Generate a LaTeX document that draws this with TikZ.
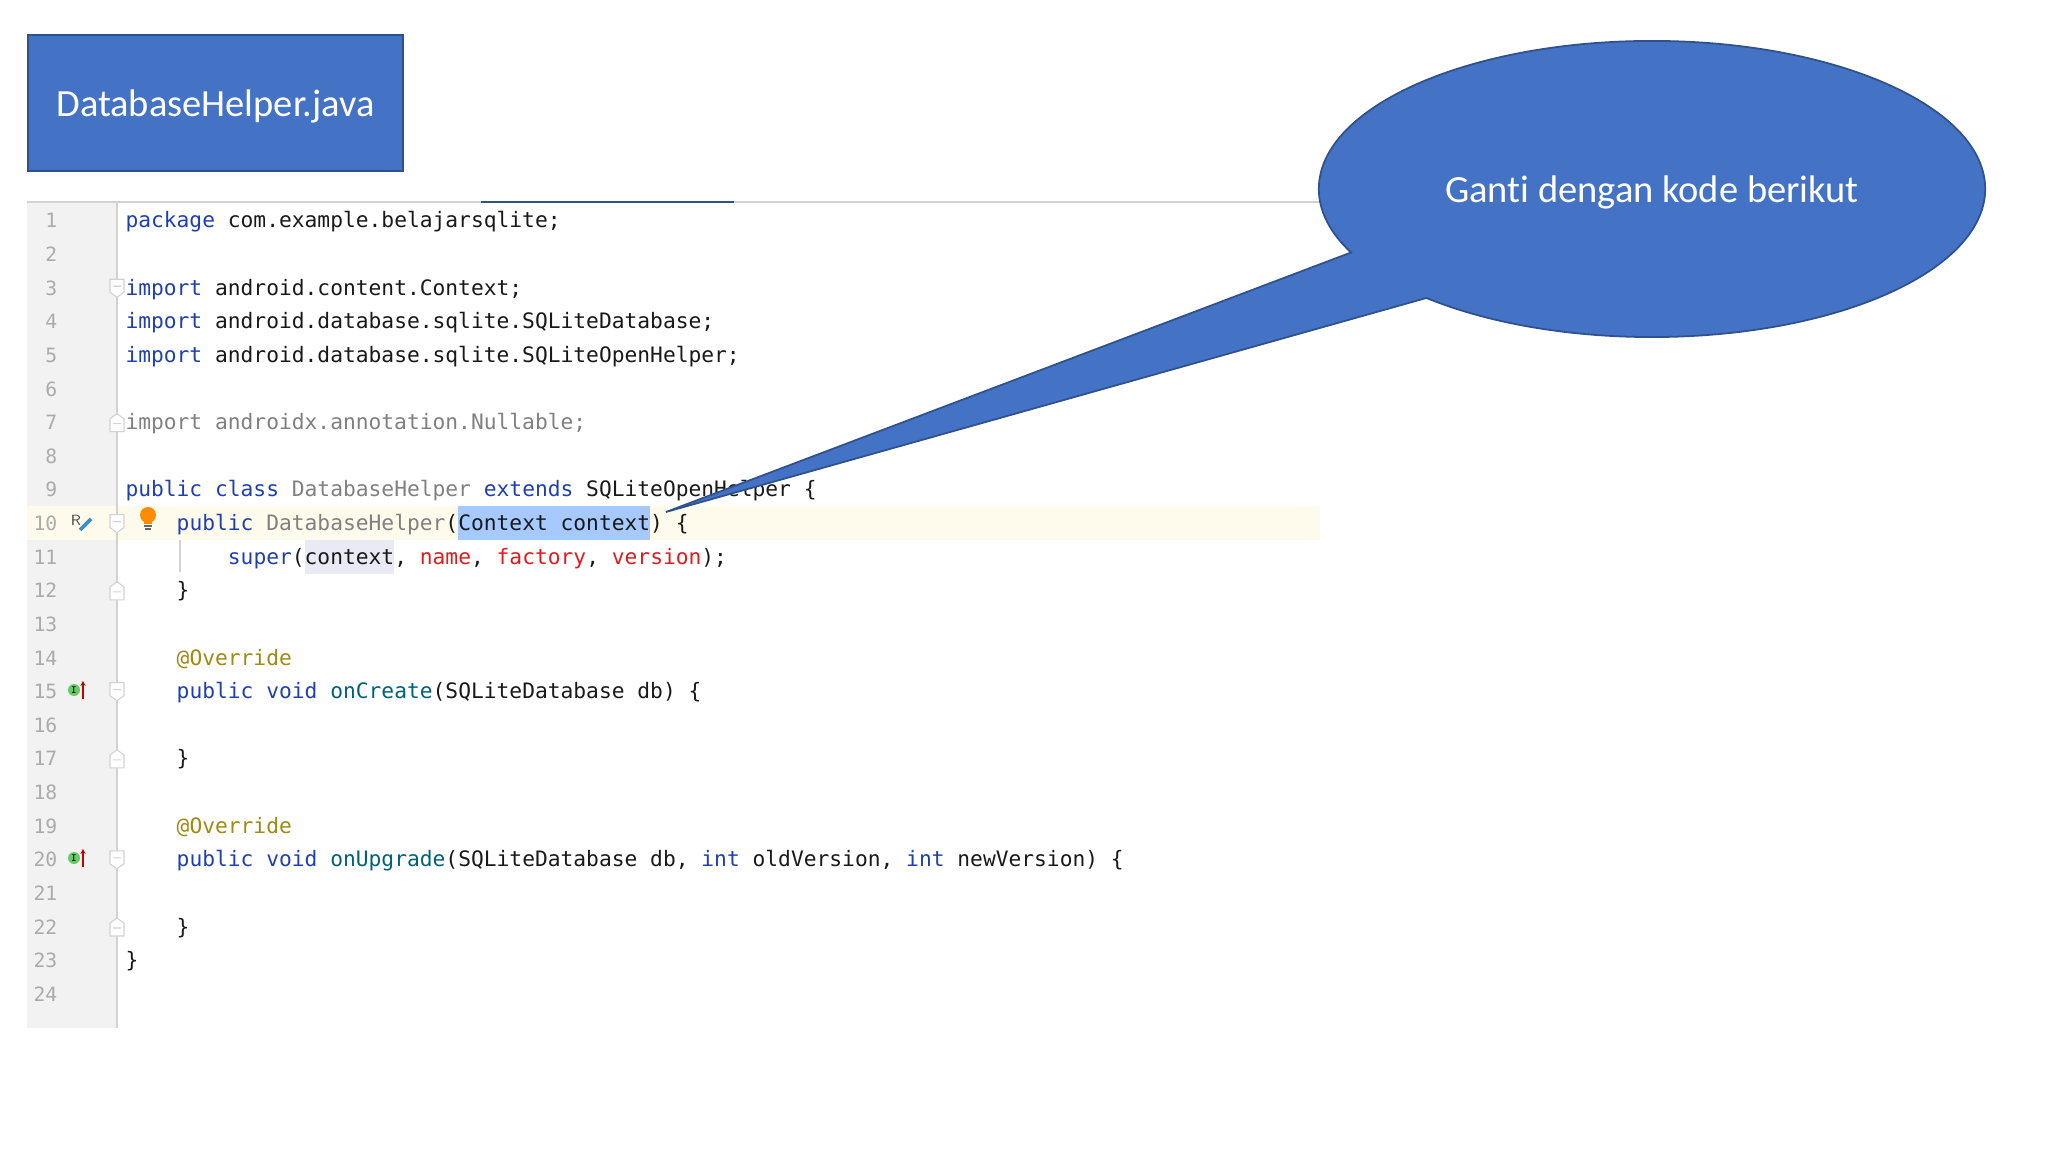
\documentclass[tikz,border=0pt]{standalone}
\usepackage{fontspec}
\setmainfont[Ligatures=NoCommon]{Carlito}
\setmonofont{DejaVu Sans Mono}
\usetikzlibrary{shapes.callouts,arrows.meta}
\definecolor{slideblue}{HTML}{4472C4}
\definecolor{slideedge}{HTML}{2F528F}
\definecolor{gutterbg}{HTML}{F2F2F3}
\definecolor{gutterline}{HTML}{D2D2D2}
\definecolor{linenum}{HTML}{ABABAB}
\definecolor{kwblue}{HTML}{1F3FB0}
\definecolor{dimgray}{HTML}{808080}
\definecolor{paramred}{HTML}{E01B1B}
\definecolor{methodteal}{HTML}{00627A}
\definecolor{annotgold}{HTML}{A08A12}
\definecolor{pencilblue}{HTML}{3D8FC9}
\newcommand{\kw}[1]{\textcolor{kwblue}{#1}}
\newcommand{\dm}[1]{\textcolor{dimgray}{#1}}
\newcommand{\pr}[1]{\textcolor{paramred}{#1}}
\newcommand{\mt}[1]{\textcolor{methodteal}{#1}}
\newcommand{\an}[1]{\textcolor{annotgold}{#1}}
\tikzset{
	slidetext/.style={text=white,font=\fontsize{10.94}{12}\selectfont,text height=0.75em,text depth=0pt},
	codeline/.style={anchor=base west,inner sep=0pt,text=black!90,font=\ttfamily\fontsize{6.045}{7}\selectfont},
	numline/.style={anchor=base east,inner sep=0pt,text=linenum,font=\ttfamily\fontsize{5.6}{6}\selectfont},
	foldmark/.style={draw=gutterline,fill=white,line width=0.3pt}
}
\begin{document}
\begin{tikzpicture}[x=0.01cm,y=-0.01cm]
	\useasboundingbox (0,0) rectangle (2048,1152);
	% editor background
	\fill[gutterbg] (27,202) rectangle (117,1028);
	\fill[yellow!60!orange!7] (27,506) rectangle (1320,540);
	\fill[blue!40!gray!12] (305,540) rectangle (394,574);
	\fill[blue!60!cyan!35] (458,506) rectangle (650,540);
	\draw[gutterline,line width=0.4pt] (27,202) -- (1400,202);
	\draw[slideedge,line width=0.4pt] (481,202) -- (734,202);
	\draw[gutterline,line width=0.4pt] (117,202) -- (117,1028);
	\draw[gutterline,line width=0.3pt] (180,540) -- (180,572);
	% line numbers
	\foreach \n in {1,...,24}
	\node[numline] (num\n) at (58,228+33.62*\n-33.62) {\n};
	% code
	\foreach \n/\ind/\txt in {
		1/0/{\kw{package} com.example.belajarsqlite;},
		3/0/{\kw{import} android.content.Context;},
		4/0/{\kw{import} android.database.sqlite.SQLiteDatabase;},
		5/0/{\kw{import} android.database.sqlite.SQLiteOpenHelper;},
		7/0/{\dm{import androidx.annotation.Nullable;}},
		9/0/{\kw{public class} \dm{DatabaseHelper} \kw{extends} SQLiteOpenHelper \{},
		10/4/{\kw{public} \dm{DatabaseHelper}(Context context) \{},
		11/8/{\kw{super}(context, \pr{name}, \pr{factory}, \pr{version});},
		12/4/{\}},
		14/4/{\an{@Override}},
		15/4/{\kw{public void} \mt{onCreate}(SQLiteDatabase db) \{},
		17/4/{\}},
		19/4/{\an{@Override}},
		20/4/{\kw{public void} \mt{onUpgrade}(SQLiteDatabase db, \kw{int} oldVersion, \kw{int} newVersion) \{},
		22/4/{\}},
		23/0/{\}}}
	\node[codeline] (code\n) at (124.8+12.8*\ind,228+33.62*\n-33.62) {\txt};
	% fold markers
	\foreach \n in {3,10,15,20}
	\draw[foldmark] (110,212+33.62*\n-33.62) -- (124,212+33.62*\n-33.62) -- (124,225+33.62*\n-33.62) -- (117,230+33.62*\n-33.62) -- (110,225+33.62*\n-33.62) -- cycle (113,219+33.62*\n-33.62) -- (121,219+33.62*\n-33.62);
	\foreach \n in {7,12,17,22}
	\draw[foldmark] (110,230+33.62*\n-33.62) -- (124,230+33.62*\n-33.62) -- (124,217+33.62*\n-33.62) -- (117,212+33.62*\n-33.62) -- (110,217+33.62*\n-33.62) -- cycle (113,222+33.62*\n-33.62) -- (121,222+33.62*\n-33.62);
	% gutter icons
	\node[inner sep=0pt,text=black!70,font=\sffamily\fontsize{4.2}{5}\selectfont] (refactor) at (76,520) {R};
	\draw[pencilblue,line width=1.1pt] (80,530) -- (91,519);
	\fill[orange!90!yellow] (148,515) circle (8);
	\fill[orange!90!yellow] (144,520) rectangle (152,524);
	\draw[black!60,line width=0.3pt] (144,526) -- (152,526) (145,529) -- (151,529);
	\foreach \y in {690,858}{
		\fill[green!50!gray!80] (74,\y) circle (6);
		\node[inner sep=0pt,font=\ttfamily\fontsize{2.6}{3}\selectfont] at (74,\y) {I};
		\draw[red!80!black,line width=0.4pt,-{Stealth[length=1.4pt,width=1.5pt]}] (83,\y+9) -- (83,\y-9);
	}
	% slide shapes
	\node[draw=slideedge,fill=slideblue,line width=0.5pt,minimum width=3.75cm,minimum height=1.36cm,slidetext] (titlebox) at (215.5,103) {DatabaseHelper.java};
	\node[ellipse callout,draw=slideedge,fill=slideblue,line width=0.5pt,minimum width=6.66cm,minimum height=2.96cm,inner sep=0pt,callout absolute pointer={(666,512)},callout pointer arc=22,slidetext] (gantibubble) at (1652,189) {Ganti dengan kode berikut};
\end{tikzpicture}
\end{document}
